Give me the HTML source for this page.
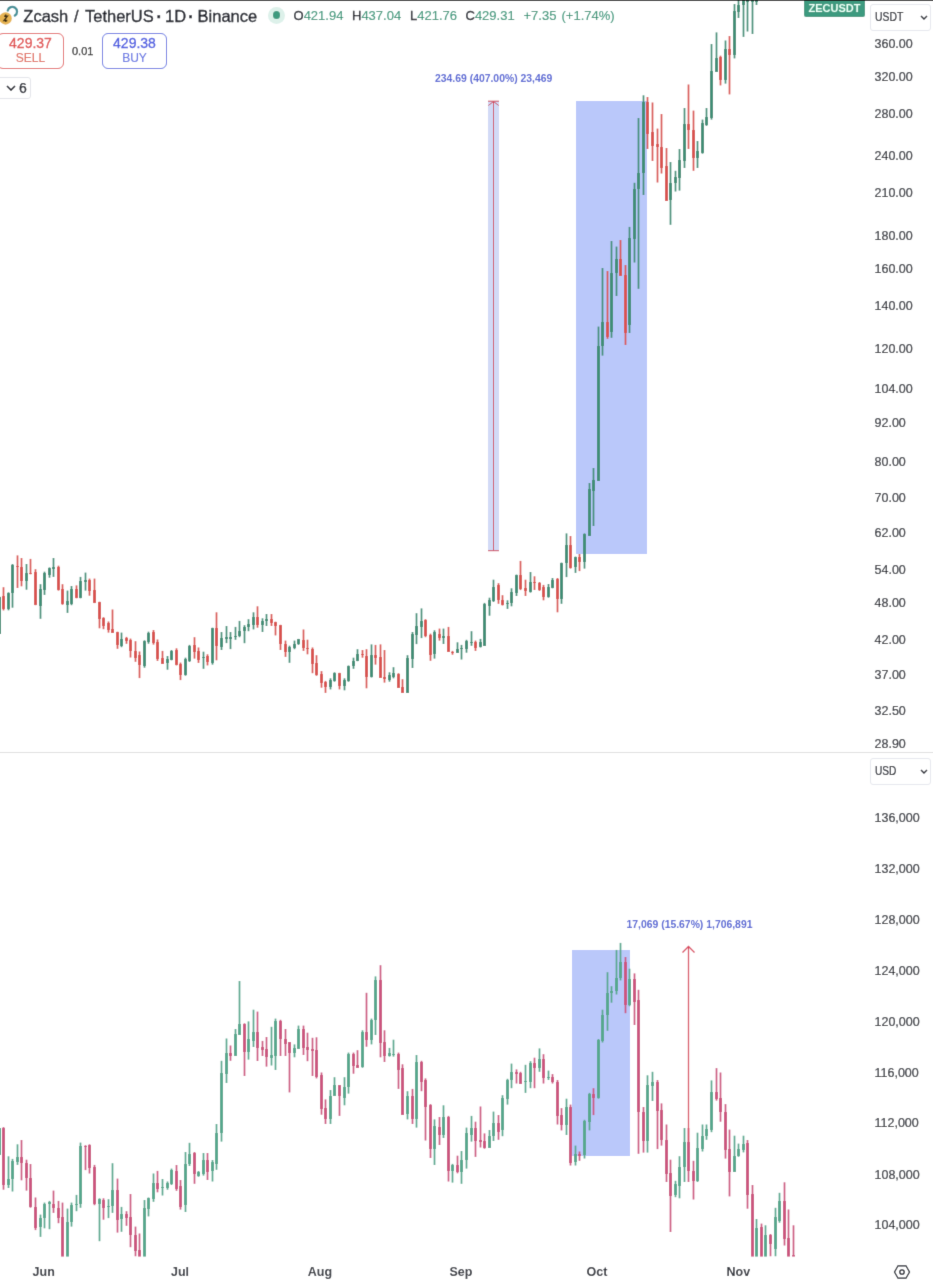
<!DOCTYPE html>
<html><head><meta charset="utf-8"><style>
*{margin:0;padding:0;box-sizing:border-box}
html,body{width:933px;height:1280px;background:#fff;overflow:hidden}
body{position:relative;font-family:"Liberation Sans",sans-serif;color:#131722}
.a{position:absolute;white-space:nowrap}
.k{color:#131722;-webkit-text-stroke:0.3px #131722}
.t{top:6px;font-size:16.5px;line-height:20px;color:#131722;-webkit-text-stroke:0.35px #131722}
.o{top:8px;font-size:13px;line-height:16px;color:#3a987b;-webkit-text-stroke:0.15px #3a987b}
.pl{position:absolute;left:874.5px;font-size:12.5px;line-height:14px;color:#2a2d35;-webkit-text-stroke:0.2px #2a2d35}
.ml{position:absolute;top:1264.5px;width:40px;text-align:center;font-size:12.5px;font-weight:bold;line-height:14px;color:#2f323b}
svg{position:absolute;left:0;top:0}
</style></head><body>
<svg width="0" height="0" style="position:absolute"><filter id="bl" x="0" y="0" width="100%" height="100%" filterUnits="userSpaceOnUse"><feConvolveMatrix order="3" kernelMatrix="0.0113 0.0838 0.0113 0.0838 0.6194 0.0838 0.0113 0.0838 0.0113" divisor="1" edgeMode="duplicate"/></filter></svg>
<div id="wrap" style="position:absolute;left:0;top:0;width:933px;height:1280px;background:#fff;filter:url(#bl)">
<svg width="933" height="1280" viewBox="0 0 933 1280" shape-rendering="crispEdges">
<defs>
<clipPath id="ct"><rect x="0" y="1" width="866" height="751"/></clipPath>
<clipPath id="cb"><rect x="0" y="753" width="866" height="503.5"/></clipPath>
</defs>
<g clip-path="url(#ct)">
<rect x="576" y="101" width="71" height="453" fill="#bac8fa"/>
<rect x="488" y="101" width="11" height="450" fill="#d2daf6"/>
<g fill="#3f8f77"><rect x="-1.35" y="596.6" width="1.7" height="36.9" shape-rendering="auto"/><rect x="-2" y="596.6" width="3" height="36.9"/><rect x="7.65" y="592.3" width="1.7" height="18.0" shape-rendering="auto"/><rect x="7" y="592.8" width="3" height="16.6"/><rect x="11.65" y="564.0" width="1.7" height="43.7" shape-rendering="auto"/><rect x="11" y="565.4" width="3" height="27.8"/><rect x="25.65" y="564.0" width="1.7" height="25.7" shape-rendering="auto"/><rect x="25" y="572.6" width="3" height="8.6"/><rect x="39.65" y="584.2" width="1.7" height="34.6" shape-rendering="auto"/><rect x="39" y="588.9" width="3" height="17.1"/><rect x="43.65" y="571.7" width="1.7" height="23.2" shape-rendering="auto"/><rect x="43" y="572.6" width="3" height="17.1"/><rect x="48.65" y="567.4" width="1.7" height="10.3" shape-rendering="auto"/><rect x="48" y="568.3" width="3" height="6.9"/><rect x="52.65" y="558.0" width="1.7" height="18.9" shape-rendering="auto"/><rect x="52" y="566.6" width="3" height="2.6"/><rect x="66.65" y="590.6" width="1.7" height="22.3" shape-rendering="auto"/><rect x="66" y="600.9" width="3" height="4.3"/><rect x="70.65" y="586.0" width="1.7" height="19.2" shape-rendering="auto"/><rect x="70" y="588.9" width="3" height="14.6"/><rect x="79.65" y="576.9" width="1.7" height="21.4" shape-rendering="auto"/><rect x="79" y="581.2" width="3" height="17.1"/><rect x="84.65" y="572.6" width="1.7" height="18.0" shape-rendering="auto"/><rect x="84" y="580.3" width="3" height="1.7"/><rect x="120.65" y="632.6" width="1.7" height="14.6" shape-rendering="auto"/><rect x="120" y="638.6" width="3" height="7.7"/><rect x="143.65" y="640.3" width="1.7" height="27.4" shape-rendering="auto"/><rect x="143" y="641.2" width="3" height="24.9"/><rect x="147.65" y="631.7" width="1.7" height="12.0" shape-rendering="auto"/><rect x="147" y="632.6" width="3" height="9.4"/><rect x="166.65" y="656.0" width="1.7" height="13.7" shape-rendering="auto"/><rect x="166" y="658.6" width="3" height="4.3"/><rect x="170.65" y="650.0" width="1.7" height="10.3" shape-rendering="auto"/><rect x="170" y="650.9" width="3" height="8.6"/><rect x="184.65" y="657.7" width="1.7" height="18.0" shape-rendering="auto"/><rect x="184" y="659.1" width="3" height="16.1"/><rect x="188.65" y="644.9" width="1.7" height="17.1" shape-rendering="auto"/><rect x="188" y="645.7" width="3" height="15.4"/><rect x="202.65" y="651.7" width="1.7" height="17.1" shape-rendering="auto"/><rect x="202" y="656.9" width="3" height="1.0"/><rect x="211.65" y="627.7" width="1.7" height="36.9" shape-rendering="auto"/><rect x="211" y="628.1" width="3" height="34.8"/><rect x="220.65" y="632.0" width="1.7" height="18.0" shape-rendering="auto"/><rect x="220" y="638.0" width="3" height="8.6"/><rect x="225.65" y="626.0" width="1.7" height="17.1" shape-rendering="auto"/><rect x="225" y="637.2" width="3" height="1.7"/><rect x="229.65" y="632.0" width="1.7" height="17.1" shape-rendering="auto"/><rect x="229" y="637.2" width="3" height="2.1"/><rect x="234.65" y="626.9" width="1.7" height="12.9" shape-rendering="auto"/><rect x="234" y="636.3" width="3" height="1.0"/><rect x="238.65" y="620.9" width="1.7" height="16.3" shape-rendering="auto"/><rect x="238" y="630.7" width="3" height="5.7"/><rect x="243.65" y="625.2" width="1.7" height="18.0" shape-rendering="auto"/><rect x="243" y="626.5" width="3" height="4.6"/><rect x="247.65" y="619.2" width="1.7" height="12.0" shape-rendering="auto"/><rect x="247" y="623.8" width="3" height="3.6"/><rect x="252.65" y="612.3" width="1.7" height="17.1" shape-rendering="auto"/><rect x="252" y="617.4" width="3" height="7.7"/><rect x="261.65" y="618.3" width="1.7" height="13.7" shape-rendering="auto"/><rect x="261" y="620.9" width="3" height="4.3"/><rect x="265.65" y="614.0" width="1.7" height="12.0" shape-rendering="auto"/><rect x="265" y="619.2" width="3" height="1.7"/><rect x="288.65" y="645.7" width="1.7" height="17.1" shape-rendering="auto"/><rect x="288" y="646.6" width="3" height="5.1"/><rect x="293.65" y="640.6" width="1.7" height="8.6" shape-rendering="auto"/><rect x="293" y="644.0" width="3" height="3.8"/><rect x="297.65" y="638.9" width="1.7" height="6.0" shape-rendering="auto"/><rect x="297" y="639.2" width="3" height="5.1"/><rect x="329.65" y="678.3" width="1.7" height="11.1" shape-rendering="auto"/><rect x="329" y="679.7" width="3" height="7.2"/><rect x="333.65" y="672.3" width="1.7" height="9.4" shape-rendering="auto"/><rect x="333" y="673.2" width="3" height="7.7"/><rect x="343.65" y="678.3" width="1.7" height="12.0" shape-rendering="auto"/><rect x="343" y="679.7" width="3" height="5.8"/><rect x="347.65" y="665.5" width="1.7" height="16.3" shape-rendering="auto"/><rect x="347" y="666.0" width="3" height="15.4"/><rect x="352.65" y="657.7" width="1.7" height="11.1" shape-rendering="auto"/><rect x="352" y="661.2" width="3" height="5.1"/><rect x="356.65" y="649.2" width="1.7" height="12.0" shape-rendering="auto"/><rect x="356" y="654.0" width="3" height="7.2"/><rect x="370.65" y="644.4" width="1.7" height="33.1" shape-rendering="auto"/><rect x="370" y="655.2" width="3" height="21.4"/><rect x="388.65" y="672.3" width="1.7" height="9.4" shape-rendering="auto"/><rect x="388" y="674.6" width="3" height="5.5"/><rect x="392.65" y="667.2" width="1.7" height="11.1" shape-rendering="auto"/><rect x="392" y="673.2" width="3" height="3.4"/><rect x="406.65" y="655.2" width="1.7" height="37.7" shape-rendering="auto"/><rect x="406" y="657.7" width="3" height="35.2"/><rect x="411.65" y="632.0" width="1.7" height="36.0" shape-rendering="auto"/><rect x="411" y="633.7" width="3" height="25.7"/><rect x="415.65" y="613.2" width="1.7" height="30.9" shape-rendering="auto"/><rect x="415" y="626.0" width="3" height="9.4"/><rect x="420.65" y="608.4" width="1.7" height="29.7" shape-rendering="auto"/><rect x="420" y="620.9" width="3" height="6.0"/><rect x="433.65" y="630.3" width="1.7" height="28.3" shape-rendering="auto"/><rect x="433" y="632.0" width="3" height="22.3"/><rect x="442.65" y="628.6" width="1.7" height="15.4" shape-rendering="auto"/><rect x="442" y="635.5" width="3" height="2.1"/><rect x="456.65" y="642.3" width="1.7" height="10.3" shape-rendering="auto"/><rect x="456" y="648.8" width="3" height="3.8"/><rect x="460.65" y="644.9" width="1.7" height="14.6" shape-rendering="auto"/><rect x="460" y="647.5" width="3" height="1.4"/><rect x="465.65" y="639.8" width="1.7" height="12.9" shape-rendering="auto"/><rect x="465" y="641.0" width="3" height="8.2"/><rect x="470.65" y="631.2" width="1.7" height="14.6" shape-rendering="auto"/><rect x="470" y="641.5" width="3" height="1.0"/><rect x="479.65" y="638.9" width="1.7" height="8.6" shape-rendering="auto"/><rect x="479" y="642.3" width="3" height="5.1"/><rect x="483.65" y="602.9" width="1.7" height="42.9" shape-rendering="auto"/><rect x="483" y="603.8" width="3" height="41.7"/><rect x="488.65" y="597.7" width="1.7" height="18.0" shape-rendering="auto"/><rect x="488" y="599.5" width="3" height="6.0"/><rect x="492.65" y="579.7" width="1.7" height="22.3" shape-rendering="auto"/><rect x="492" y="586.6" width="3" height="14.6"/><rect x="506.65" y="600.3" width="1.7" height="8.6" shape-rendering="auto"/><rect x="506" y="602.6" width="3" height="1.0"/><rect x="510.65" y="588.3" width="1.7" height="18.0" shape-rendering="auto"/><rect x="510" y="591.7" width="3" height="11.1"/><rect x="515.65" y="574.6" width="1.7" height="21.4" shape-rendering="auto"/><rect x="515" y="575.1" width="3" height="18.3"/><rect x="529.65" y="572.0" width="1.7" height="20.6" shape-rendering="auto"/><rect x="529" y="582.3" width="3" height="9.4"/><rect x="547.65" y="584.0" width="1.7" height="13.7" shape-rendering="auto"/><rect x="547" y="586.6" width="3" height="10.3"/><rect x="551.65" y="578.0" width="1.7" height="10.3" shape-rendering="auto"/><rect x="551" y="580.3" width="3" height="7.2"/><rect x="560.65" y="562.6" width="1.7" height="41.2" shape-rendering="auto"/><rect x="560" y="563.1" width="3" height="35.5"/><rect x="565.65" y="533.4" width="1.7" height="43.7" shape-rendering="auto"/><rect x="565" y="545.4" width="3" height="18.0"/><rect x="574.65" y="556.6" width="1.7" height="16.3" shape-rendering="auto"/><rect x="574" y="557.4" width="3" height="9.4"/><rect x="583.65" y="533.4" width="1.7" height="35.2" shape-rendering="auto"/><rect x="583" y="534.3" width="3" height="27.4"/><rect x="588.65" y="483.0" width="1.7" height="52.6" shape-rendering="auto"/><rect x="588" y="488.8" width="3" height="46.8"/><rect x="592.65" y="468.0" width="1.7" height="58.0" shape-rendering="auto"/><rect x="592" y="480.0" width="3" height="10.6"/><rect x="597.65" y="326.6" width="1.7" height="154.4" shape-rendering="auto"/><rect x="597" y="346.0" width="3" height="135.0"/><rect x="601.65" y="268.0" width="1.7" height="87.6" shape-rendering="auto"/><rect x="601" y="322.0" width="3" height="24.0"/><rect x="610.65" y="241.0" width="1.7" height="96.8" shape-rendering="auto"/><rect x="610" y="272.8" width="3" height="59.2"/><rect x="615.65" y="246.6" width="1.7" height="49.4" shape-rendering="auto"/><rect x="615" y="258.8" width="3" height="14.0"/><rect x="628.65" y="226.9" width="1.7" height="106.1" shape-rendering="auto"/><rect x="628" y="238.0" width="3" height="87.0"/><rect x="633.65" y="182.8" width="1.7" height="79.7" shape-rendering="auto"/><rect x="633" y="189.4" width="3" height="49.6"/><rect x="637.65" y="118.0" width="1.7" height="170.8" shape-rendering="auto"/><rect x="637" y="172.5" width="3" height="16.9"/><rect x="642.65" y="95.3" width="1.7" height="99.7" shape-rendering="auto"/><rect x="642" y="101.6" width="3" height="71.4"/><rect x="669.65" y="162.0" width="1.7" height="62.8" shape-rendering="auto"/><rect x="669" y="182.5" width="3" height="17.1"/><rect x="674.65" y="170.8" width="1.7" height="20.7" shape-rendering="auto"/><rect x="674" y="177.0" width="3" height="5.5"/><rect x="678.65" y="149.0" width="1.7" height="41.6" shape-rendering="auto"/><rect x="678" y="160.0" width="3" height="18.0"/><rect x="683.65" y="108.0" width="1.7" height="60.0" shape-rendering="auto"/><rect x="683" y="124.0" width="3" height="37.0"/><rect x="696.65" y="141.0" width="1.7" height="27.0" shape-rendering="auto"/><rect x="696" y="151.0" width="3" height="7.0"/><rect x="701.65" y="119.6" width="1.7" height="34.1" shape-rendering="auto"/><rect x="701" y="123.0" width="3" height="29.8"/><rect x="705.65" y="108.0" width="1.7" height="17.9" shape-rendering="auto"/><rect x="705" y="116.5" width="3" height="8.5"/><rect x="710.65" y="44.0" width="1.7" height="75.6" shape-rendering="auto"/><rect x="710" y="71.0" width="3" height="46.8"/><rect x="715.65" y="32.4" width="1.7" height="39.6" shape-rendering="auto"/><rect x="715" y="57.5" width="3" height="14.1"/><rect x="724.65" y="40.5" width="1.7" height="43.1" shape-rendering="auto"/><rect x="724" y="49.4" width="3" height="30.6"/><rect x="733.65" y="4.0" width="1.7" height="54.4" shape-rendering="auto"/><rect x="733" y="10.8" width="3" height="44.0"/><rect x="737.65" y="1.0" width="1.7" height="17.0" shape-rendering="auto"/><rect x="737" y="4.5" width="3" height="7.2"/><rect x="742.65" y="1.0" width="1.7" height="35.9" shape-rendering="auto"/><rect x="742" y="1.0" width="3" height="4.4"/><rect x="746.65" y="1.0" width="1.7" height="30.5" shape-rendering="auto"/><rect x="746" y="1.0" width="3" height="1.0"/><rect x="751.65" y="1.0" width="1.7" height="33.0" shape-rendering="auto"/><rect x="751" y="1.0" width="3" height="1.0"/><rect x="755.65" y="1.0" width="1.7" height="4.0" shape-rendering="auto"/><rect x="755" y="1.0" width="3" height="1.0"/></g><g fill="#d9534f"><rect x="2.65" y="587.2" width="1.7" height="23.2" shape-rendering="auto"/><rect x="2" y="595.7" width="3" height="13.7"/><rect x="16.65" y="555.4" width="1.7" height="32.6" shape-rendering="auto"/><rect x="16" y="565.7" width="3" height="1.7"/><rect x="20.65" y="558.0" width="1.7" height="28.3" shape-rendering="auto"/><rect x="20" y="566.6" width="3" height="14.6"/><rect x="29.65" y="558.9" width="1.7" height="15.4" shape-rendering="auto"/><rect x="29" y="572.6" width="3" height="1.4"/><rect x="34.65" y="569.2" width="1.7" height="36.0" shape-rendering="auto"/><rect x="34" y="571.7" width="3" height="33.4"/><rect x="57.65" y="565.7" width="1.7" height="24.9" shape-rendering="auto"/><rect x="57" y="566.6" width="3" height="23.2"/><rect x="61.65" y="584.2" width="1.7" height="20.6" shape-rendering="auto"/><rect x="61" y="588.9" width="3" height="15.4"/><rect x="75.65" y="585.4" width="1.7" height="12.9" shape-rendering="auto"/><rect x="75" y="588.9" width="3" height="9.4"/><rect x="88.65" y="578.6" width="1.7" height="17.1" shape-rendering="auto"/><rect x="88" y="580.3" width="3" height="10.3"/><rect x="93.65" y="578.6" width="1.7" height="24.5" shape-rendering="auto"/><rect x="93" y="589.7" width="3" height="12.9"/><rect x="98.65" y="601.7" width="1.7" height="26.6" shape-rendering="auto"/><rect x="98" y="602.1" width="3" height="16.8"/><rect x="102.65" y="617.2" width="1.7" height="12.0" shape-rendering="auto"/><rect x="102" y="618.0" width="3" height="7.7"/><rect x="107.65" y="621.5" width="1.7" height="11.1" shape-rendering="auto"/><rect x="107" y="623.2" width="3" height="6.9"/><rect x="111.65" y="609.5" width="1.7" height="23.2" shape-rendering="auto"/><rect x="111" y="629.2" width="3" height="3.4"/><rect x="116.65" y="631.7" width="1.7" height="17.1" shape-rendering="auto"/><rect x="116" y="631.7" width="3" height="12.9"/><rect x="125.65" y="636.9" width="1.7" height="6.9" shape-rendering="auto"/><rect x="125" y="637.7" width="3" height="3.4"/><rect x="129.65" y="638.6" width="1.7" height="18.9" shape-rendering="auto"/><rect x="129" y="640.3" width="3" height="10.3"/><rect x="134.65" y="641.2" width="1.7" height="20.6" shape-rendering="auto"/><rect x="134" y="650.6" width="3" height="6.9"/><rect x="138.65" y="651.5" width="1.7" height="26.6" shape-rendering="auto"/><rect x="138" y="654.9" width="3" height="10.3"/><rect x="152.65" y="630.0" width="1.7" height="14.6" shape-rendering="auto"/><rect x="152" y="631.7" width="3" height="11.1"/><rect x="156.65" y="639.5" width="1.7" height="21.4" shape-rendering="auto"/><rect x="156" y="642.0" width="3" height="17.1"/><rect x="161.65" y="650.9" width="1.7" height="12.9" shape-rendering="auto"/><rect x="161" y="657.7" width="3" height="6.0"/><rect x="175.65" y="648.3" width="1.7" height="17.1" shape-rendering="auto"/><rect x="175" y="650.0" width="3" height="14.9"/><rect x="179.65" y="662.6" width="1.7" height="17.5" shape-rendering="auto"/><rect x="179" y="663.8" width="3" height="11.1"/><rect x="193.65" y="637.2" width="1.7" height="21.4" shape-rendering="auto"/><rect x="193" y="644.9" width="3" height="6.9"/><rect x="197.65" y="647.5" width="1.7" height="15.4" shape-rendering="auto"/><rect x="197" y="650.9" width="3" height="9.4"/><rect x="206.65" y="654.3" width="1.7" height="11.1" shape-rendering="auto"/><rect x="206" y="656.4" width="3" height="5.7"/><rect x="215.65" y="612.3" width="1.7" height="48.0" shape-rendering="auto"/><rect x="215" y="628.3" width="3" height="17.5"/><rect x="256.65" y="606.3" width="1.7" height="21.4" shape-rendering="auto"/><rect x="256" y="617.4" width="3" height="7.7"/><rect x="270.65" y="614.0" width="1.7" height="12.0" shape-rendering="auto"/><rect x="270" y="619.2" width="3" height="3.4"/><rect x="274.65" y="621.7" width="1.7" height="13.7" shape-rendering="auto"/><rect x="274" y="622.1" width="3" height="3.9"/><rect x="279.65" y="624.8" width="1.7" height="25.2" shape-rendering="auto"/><rect x="279" y="625.2" width="3" height="18.9"/><rect x="284.65" y="640.6" width="1.7" height="16.3" shape-rendering="auto"/><rect x="284" y="644.0" width="3" height="7.7"/><rect x="302.65" y="629.5" width="1.7" height="21.4" shape-rendering="auto"/><rect x="302" y="639.7" width="3" height="8.6"/><rect x="306.65" y="639.7" width="1.7" height="14.6" shape-rendering="auto"/><rect x="306" y="647.8" width="3" height="1.0"/><rect x="311.65" y="647.5" width="1.7" height="25.7" shape-rendering="auto"/><rect x="311" y="648.8" width="3" height="14.9"/><rect x="315.65" y="655.2" width="1.7" height="20.6" shape-rendering="auto"/><rect x="315" y="662.9" width="3" height="12.3"/><rect x="320.65" y="671.1" width="1.7" height="16.6" shape-rendering="auto"/><rect x="320" y="674.0" width="3" height="9.1"/><rect x="324.65" y="680.9" width="1.7" height="12.0" shape-rendering="auto"/><rect x="324" y="682.1" width="3" height="4.8"/><rect x="338.65" y="672.8" width="1.7" height="16.6" shape-rendering="auto"/><rect x="338" y="673.2" width="3" height="12.9"/><rect x="361.65" y="650.0" width="1.7" height="7.7" shape-rendering="auto"/><rect x="361" y="654.0" width="3" height="1.2"/><rect x="365.65" y="649.2" width="1.7" height="39.1" shape-rendering="auto"/><rect x="365" y="656.0" width="3" height="21.4"/><rect x="374.65" y="644.9" width="1.7" height="19.7" shape-rendering="auto"/><rect x="374" y="655.2" width="3" height="2.9"/><rect x="379.65" y="644.4" width="1.7" height="33.1" shape-rendering="auto"/><rect x="379" y="656.9" width="3" height="20.6"/><rect x="383.65" y="650.0" width="1.7" height="32.6" shape-rendering="auto"/><rect x="383" y="676.6" width="3" height="2.6"/><rect x="397.65" y="673.2" width="1.7" height="14.6" shape-rendering="auto"/><rect x="397" y="673.5" width="3" height="14.2"/><rect x="401.65" y="679.2" width="1.7" height="13.7" shape-rendering="auto"/><rect x="401" y="686.9" width="3" height="6.0"/><rect x="424.65" y="619.2" width="1.7" height="18.0" shape-rendering="auto"/><rect x="424" y="620.0" width="3" height="16.3"/><rect x="429.65" y="633.7" width="1.7" height="27.1" shape-rendering="auto"/><rect x="429" y="634.6" width="3" height="20.6"/><rect x="438.65" y="628.6" width="1.7" height="12.0" shape-rendering="auto"/><rect x="438" y="633.7" width="3" height="4.3"/><rect x="447.65" y="626.9" width="1.7" height="24.9" shape-rendering="auto"/><rect x="447" y="635.5" width="3" height="16.3"/><rect x="451.65" y="650.9" width="1.7" height="3.8" shape-rendering="auto"/><rect x="451" y="651.7" width="3" height="1.7"/><rect x="474.65" y="640.6" width="1.7" height="10.3" shape-rendering="auto"/><rect x="474" y="641.5" width="3" height="6.9"/><rect x="497.65" y="583.2" width="1.7" height="20.6" shape-rendering="auto"/><rect x="497" y="584.9" width="3" height="14.6"/><rect x="501.65" y="595.2" width="1.7" height="10.3" shape-rendering="auto"/><rect x="501" y="599.5" width="3" height="5.1"/><rect x="519.65" y="560.9" width="1.7" height="29.2" shape-rendering="auto"/><rect x="519" y="574.6" width="3" height="14.6"/><rect x="524.65" y="579.7" width="1.7" height="16.3" shape-rendering="auto"/><rect x="524" y="588.3" width="3" height="2.6"/><rect x="533.65" y="576.3" width="1.7" height="13.7" shape-rendering="auto"/><rect x="533" y="582.3" width="3" height="1.0"/><rect x="538.65" y="582.0" width="1.7" height="8.9" shape-rendering="auto"/><rect x="538" y="582.8" width="3" height="7.2"/><rect x="542.65" y="584.9" width="1.7" height="15.4" shape-rendering="auto"/><rect x="542" y="586.6" width="3" height="10.8"/><rect x="556.65" y="578.0" width="1.7" height="34.3" shape-rendering="auto"/><rect x="556" y="579.2" width="3" height="19.4"/><rect x="569.65" y="536.0" width="1.7" height="32.6" shape-rendering="auto"/><rect x="569" y="545.4" width="3" height="22.3"/><rect x="578.65" y="554.0" width="1.7" height="17.1" shape-rendering="auto"/><rect x="578" y="556.6" width="3" height="5.1"/><rect x="606.65" y="271.0" width="1.7" height="67.8" shape-rendering="auto"/><rect x="606" y="321.9" width="3" height="15.0"/><rect x="619.65" y="240.0" width="1.7" height="35.6" shape-rendering="auto"/><rect x="619" y="258.8" width="3" height="16.8"/><rect x="624.65" y="265.0" width="1.7" height="80.0" shape-rendering="auto"/><rect x="624" y="274.7" width="3" height="58.3"/><rect x="646.65" y="97.0" width="1.7" height="52.0" shape-rendering="auto"/><rect x="646" y="101.6" width="3" height="32.4"/><rect x="651.65" y="102.5" width="1.7" height="58.5" shape-rendering="auto"/><rect x="651" y="132.0" width="3" height="13.6"/><rect x="656.65" y="128.6" width="1.7" height="53.9" shape-rendering="auto"/><rect x="656" y="143.8" width="3" height="2.7"/><rect x="660.65" y="114.0" width="1.7" height="59.5" shape-rendering="auto"/><rect x="660" y="146.5" width="3" height="21.5"/><rect x="665.65" y="148.0" width="1.7" height="53.0" shape-rendering="auto"/><rect x="665" y="166.0" width="3" height="34.5"/><rect x="687.65" y="84.5" width="1.7" height="64.5" shape-rendering="auto"/><rect x="687" y="124.0" width="3" height="6.0"/><rect x="692.65" y="110.6" width="1.7" height="60.2" shape-rendering="auto"/><rect x="692" y="129.5" width="3" height="28.5"/><rect x="719.65" y="55.7" width="1.7" height="29.7" shape-rendering="auto"/><rect x="719" y="56.6" width="3" height="23.4"/><rect x="728.65" y="36.0" width="1.7" height="58.4" shape-rendering="auto"/><rect x="728" y="49.4" width="3" height="5.4"/></g>
<g shape-rendering="auto" stroke="#cf4b5e" stroke-width="1" fill="none">
<line x1="493.5" y1="101.5" x2="493.5" y2="550.5"/>
<line x1="488" y1="101.2" x2="499" y2="101.2"/>
<line x1="488" y1="550.7" x2="499" y2="550.7"/>
<polyline points="488.3,105.5 493.5,101.5 498.7,105.5"/>
</g>
</g>
<g clip-path="url(#cb)">
<rect x="571.5" y="950" width="58" height="206" fill="#bac8fa"/>
<g fill="#56a88e"><rect x="-1.35" y="1128.0" width="1.7" height="26.6" shape-rendering="auto"/><rect x="-2" y="1128.0" width="3" height="26.6"/><rect x="7.65" y="1156.3" width="1.7" height="31.7" shape-rendering="auto"/><rect x="7" y="1178.6" width="3" height="6.0"/><rect x="11.65" y="1158.9" width="1.7" height="32.6" shape-rendering="auto"/><rect x="11" y="1161.4" width="3" height="17.1"/><rect x="16.65" y="1144.3" width="1.7" height="20.6" shape-rendering="auto"/><rect x="16" y="1157.2" width="3" height="4.3"/><rect x="39.65" y="1214.6" width="1.7" height="22.3" shape-rendering="auto"/><rect x="39" y="1218.0" width="3" height="9.4"/><rect x="43.65" y="1202.6" width="1.7" height="25.7" shape-rendering="auto"/><rect x="43" y="1203.5" width="3" height="14.6"/><rect x="48.65" y="1200.9" width="1.7" height="28.3" shape-rendering="auto"/><rect x="48" y="1201.7" width="3" height="2.2"/><rect x="66.65" y="1208.6" width="1.7" height="47.9" shape-rendering="auto"/><rect x="66" y="1221.5" width="3" height="35.0"/><rect x="70.65" y="1202.6" width="1.7" height="24.0" shape-rendering="auto"/><rect x="70" y="1205.2" width="3" height="16.3"/><rect x="75.65" y="1194.9" width="1.7" height="16.3" shape-rendering="auto"/><rect x="75" y="1203.5" width="3" height="1.7"/><rect x="79.65" y="1142.6" width="1.7" height="65.2" shape-rendering="auto"/><rect x="79" y="1146.0" width="3" height="58.3"/><rect x="98.65" y="1198.3" width="1.7" height="42.9" shape-rendering="auto"/><rect x="98" y="1199.2" width="3" height="5.1"/><rect x="107.65" y="1199.2" width="1.7" height="18.9" shape-rendering="auto"/><rect x="107" y="1206.0" width="3" height="1.4"/><rect x="111.65" y="1163.2" width="1.7" height="49.7" shape-rendering="auto"/><rect x="111" y="1189.7" width="3" height="16.3"/><rect x="120.65" y="1206.9" width="1.7" height="24.9" shape-rendering="auto"/><rect x="120" y="1213.8" width="3" height="5.1"/><rect x="143.65" y="1200.0" width="1.7" height="56.5" shape-rendering="auto"/><rect x="143" y="1207.7" width="3" height="48.8"/><rect x="147.65" y="1197.5" width="1.7" height="18.9" shape-rendering="auto"/><rect x="147" y="1198.3" width="3" height="10.3"/><rect x="152.65" y="1173.5" width="1.7" height="28.3" shape-rendering="auto"/><rect x="152" y="1182.9" width="3" height="16.3"/><rect x="161.65" y="1179.0" width="1.7" height="16.5" shape-rendering="auto"/><rect x="161" y="1186.9" width="3" height="1.0"/><rect x="166.65" y="1181.5" width="1.7" height="8.2" shape-rendering="auto"/><rect x="166" y="1182.6" width="3" height="5.2"/><rect x="170.65" y="1168.6" width="1.7" height="16.4" shape-rendering="auto"/><rect x="170" y="1169.8" width="3" height="14.0"/><rect x="184.65" y="1152.0" width="1.7" height="60.0" shape-rendering="auto"/><rect x="184" y="1164.0" width="3" height="41.0"/><rect x="188.65" y="1142.8" width="1.7" height="23.2" shape-rendering="auto"/><rect x="188" y="1154.0" width="3" height="10.0"/><rect x="197.65" y="1171.0" width="1.7" height="5.8" shape-rendering="auto"/><rect x="197" y="1172.0" width="3" height="3.6"/><rect x="202.65" y="1153.0" width="1.7" height="22.6" shape-rendering="auto"/><rect x="202" y="1160.0" width="3" height="13.7"/><rect x="211.65" y="1160.0" width="1.7" height="21.5" shape-rendering="auto"/><rect x="211" y="1162.0" width="3" height="9.0"/><rect x="215.65" y="1124.0" width="1.7" height="45.8" shape-rendering="auto"/><rect x="215" y="1133.4" width="3" height="30.6"/><rect x="220.65" y="1060.8" width="1.7" height="80.8" shape-rendering="auto"/><rect x="220" y="1072.5" width="3" height="60.9"/><rect x="225.65" y="1038.5" width="1.7" height="44.5" shape-rendering="auto"/><rect x="225" y="1053.0" width="3" height="20.7"/><rect x="234.65" y="1029.0" width="1.7" height="27.0" shape-rendering="auto"/><rect x="234" y="1033.8" width="3" height="22.2"/><rect x="238.65" y="981.0" width="1.7" height="54.0" shape-rendering="auto"/><rect x="238" y="1023.7" width="3" height="10.8"/><rect x="247.65" y="1021.4" width="1.7" height="38.2" shape-rendering="auto"/><rect x="247" y="1038.5" width="3" height="13.4"/><rect x="252.65" y="1009.7" width="1.7" height="37.3" shape-rendering="auto"/><rect x="252" y="1031.5" width="3" height="9.4"/><rect x="270.65" y="1026.8" width="1.7" height="38.7" shape-rendering="auto"/><rect x="270" y="1055.0" width="3" height="3.4"/><rect x="274.65" y="1018.6" width="1.7" height="51.4" shape-rendering="auto"/><rect x="274" y="1021.4" width="3" height="34.2"/><rect x="293.65" y="1044.4" width="1.7" height="12.9" shape-rendering="auto"/><rect x="293" y="1047.9" width="3" height="4.7"/><rect x="297.65" y="1025.6" width="1.7" height="23.4" shape-rendering="auto"/><rect x="297" y="1029.0" width="3" height="19.6"/><rect x="329.65" y="1090.0" width="1.7" height="34.0" shape-rendering="auto"/><rect x="329" y="1096.0" width="3" height="23.4"/><rect x="333.65" y="1077.2" width="1.7" height="18.8" shape-rendering="auto"/><rect x="333" y="1085.4" width="3" height="10.6"/><rect x="343.65" y="1077.2" width="1.7" height="28.1" shape-rendering="auto"/><rect x="343" y="1086.6" width="3" height="11.7"/><rect x="347.65" y="1052.6" width="1.7" height="41.0" shape-rendering="auto"/><rect x="347" y="1053.8" width="3" height="32.8"/><rect x="361.65" y="1030.3" width="1.7" height="37.5" shape-rendering="auto"/><rect x="361" y="1031.5" width="3" height="35.8"/><rect x="370.65" y="1018.6" width="1.7" height="25.8" shape-rendering="auto"/><rect x="370" y="1019.8" width="3" height="19.9"/><rect x="374.65" y="976.4" width="1.7" height="58.6" shape-rendering="auto"/><rect x="374" y="980.0" width="3" height="39.8"/><rect x="388.65" y="1047.9" width="1.7" height="8.7" shape-rendering="auto"/><rect x="388" y="1053.0" width="3" height="2.6"/><rect x="392.65" y="1039.7" width="1.7" height="16.9" shape-rendering="auto"/><rect x="392" y="1053.7" width="3" height="1.3"/><rect x="406.65" y="1091.2" width="1.7" height="28.2" shape-rendering="auto"/><rect x="406" y="1095.5" width="3" height="18.0"/><rect x="415.65" y="1055.0" width="1.7" height="72.6" shape-rendering="auto"/><rect x="415" y="1062.0" width="3" height="57.4"/><rect x="433.65" y="1119.4" width="1.7" height="45.6" shape-rendering="auto"/><rect x="433" y="1126.4" width="3" height="22.3"/><rect x="442.65" y="1105.3" width="1.7" height="32.7" shape-rendering="auto"/><rect x="442" y="1117.0" width="3" height="17.6"/><rect x="451.65" y="1163.9" width="1.7" height="18.7" shape-rendering="auto"/><rect x="451" y="1165.0" width="3" height="6.0"/><rect x="460.65" y="1151.0" width="1.7" height="32.8" shape-rendering="auto"/><rect x="460" y="1160.4" width="3" height="11.6"/><rect x="465.65" y="1127.6" width="1.7" height="41.0" shape-rendering="auto"/><rect x="465" y="1133.4" width="3" height="26.3"/><rect x="470.65" y="1115.9" width="1.7" height="25.7" shape-rendering="auto"/><rect x="470" y="1127.6" width="3" height="7.0"/><rect x="488.65" y="1130.0" width="1.7" height="17.5" shape-rendering="auto"/><rect x="488" y="1135.8" width="3" height="11.7"/><rect x="492.65" y="1111.6" width="1.7" height="29.4" shape-rendering="auto"/><rect x="492" y="1123.4" width="3" height="12.8"/><rect x="501.65" y="1095.2" width="1.7" height="41.0" shape-rendering="auto"/><rect x="501" y="1097.6" width="3" height="32.8"/><rect x="506.65" y="1078.8" width="1.7" height="25.8" shape-rendering="auto"/><rect x="506" y="1080.0" width="3" height="18.7"/><rect x="510.65" y="1063.6" width="1.7" height="24.6" shape-rendering="auto"/><rect x="510" y="1071.8" width="3" height="8.2"/><rect x="524.65" y="1064.8" width="1.7" height="28.1" shape-rendering="auto"/><rect x="524" y="1081.2" width="3" height="1.1"/><rect x="529.65" y="1061.2" width="1.7" height="27.0" shape-rendering="auto"/><rect x="529" y="1063.1" width="3" height="19.2"/><rect x="538.65" y="1048.4" width="1.7" height="23.4" shape-rendering="auto"/><rect x="538" y="1058.9" width="3" height="9.4"/><rect x="547.65" y="1070.6" width="1.7" height="9.4" shape-rendering="auto"/><rect x="547" y="1076.5" width="3" height="1.6"/><rect x="565.65" y="1098.7" width="1.7" height="36.3" shape-rendering="auto"/><rect x="565" y="1107.0" width="3" height="17.5"/><rect x="574.65" y="1145.6" width="1.7" height="19.9" shape-rendering="auto"/><rect x="574" y="1153.8" width="3" height="8.2"/><rect x="583.65" y="1119.8" width="1.7" height="38.7" shape-rendering="auto"/><rect x="583" y="1121.0" width="3" height="34.0"/><rect x="588.65" y="1092.9" width="1.7" height="37.5" shape-rendering="auto"/><rect x="588" y="1094.0" width="3" height="28.2"/><rect x="597.65" y="1039.0" width="1.7" height="59.7" shape-rendering="auto"/><rect x="597" y="1040.2" width="3" height="58.1"/><rect x="601.65" y="1009.7" width="1.7" height="32.8" shape-rendering="auto"/><rect x="601" y="1014.8" width="3" height="26.5"/><rect x="606.65" y="972.2" width="1.7" height="58.6" shape-rendering="auto"/><rect x="606" y="992.8" width="3" height="22.0"/><rect x="610.65" y="986.2" width="1.7" height="16.5" shape-rendering="auto"/><rect x="610" y="991.0" width="3" height="2.3"/><rect x="615.65" y="949.9" width="1.7" height="44.6" shape-rendering="auto"/><rect x="615" y="978.0" width="3" height="13.4"/><rect x="619.65" y="942.9" width="1.7" height="37.5" shape-rendering="auto"/><rect x="619" y="961.6" width="3" height="16.4"/><rect x="628.65" y="968.7" width="1.7" height="37.5" shape-rendering="auto"/><rect x="628" y="979.2" width="3" height="25.8"/><rect x="646.65" y="1075.3" width="1.7" height="77.3" shape-rendering="auto"/><rect x="646" y="1084.7" width="3" height="56.3"/><rect x="651.65" y="1071.8" width="1.7" height="29.2" shape-rendering="auto"/><rect x="651" y="1082.3" width="3" height="3.5"/><rect x="674.65" y="1180.8" width="1.7" height="16.4" shape-rendering="auto"/><rect x="674" y="1184.3" width="3" height="10.5"/><rect x="678.65" y="1156.2" width="1.7" height="42.1" shape-rendering="auto"/><rect x="678" y="1166.7" width="3" height="18.8"/><rect x="683.65" y="1128.0" width="1.7" height="54.0" shape-rendering="auto"/><rect x="683" y="1142.0" width="3" height="24.7"/><rect x="696.65" y="1132.7" width="1.7" height="49.3" shape-rendering="auto"/><rect x="696" y="1148.0" width="3" height="33.2"/><rect x="701.65" y="1124.5" width="1.7" height="27.0" shape-rendering="auto"/><rect x="701" y="1136.2" width="3" height="12.9"/><rect x="705.65" y="1124.5" width="1.7" height="15.3" shape-rendering="auto"/><rect x="705" y="1129.2" width="3" height="7.0"/><rect x="710.65" y="1080.4" width="1.7" height="51.8" shape-rendering="auto"/><rect x="710" y="1091.8" width="3" height="37.8"/><rect x="733.65" y="1135.7" width="1.7" height="36.1" shape-rendering="auto"/><rect x="733" y="1156.0" width="3" height="15.8"/><rect x="737.65" y="1143.6" width="1.7" height="13.2" shape-rendering="auto"/><rect x="737" y="1149.0" width="3" height="7.0"/><rect x="742.65" y="1135.7" width="1.7" height="16.7" shape-rendering="auto"/><rect x="742" y="1143.6" width="3" height="6.2"/><rect x="755.65" y="1219.0" width="1.7" height="37.5" shape-rendering="auto"/><rect x="755" y="1228.0" width="3" height="28.5"/><rect x="764.65" y="1225.3" width="1.7" height="31.2" shape-rendering="auto"/><rect x="764" y="1235.0" width="3" height="21.5"/><rect x="774.65" y="1207.8" width="1.7" height="48.7" shape-rendering="auto"/><rect x="774" y="1216.6" width="3" height="32.4"/><rect x="778.65" y="1192.8" width="1.7" height="29.9" shape-rendering="auto"/><rect x="778" y="1200.7" width="3" height="20.3"/></g><g fill="#cc5580"><rect x="2.65" y="1127.1" width="1.7" height="62.6" shape-rendering="auto"/><rect x="2" y="1128.0" width="3" height="56.6"/><rect x="20.65" y="1140.0" width="1.7" height="40.3" shape-rendering="auto"/><rect x="20" y="1157.2" width="3" height="6.0"/><rect x="25.65" y="1159.7" width="1.7" height="30.9" shape-rendering="auto"/><rect x="25" y="1163.2" width="3" height="14.6"/><rect x="29.65" y="1164.0" width="1.7" height="43.7" shape-rendering="auto"/><rect x="29" y="1177.7" width="3" height="29.2"/><rect x="34.65" y="1197.5" width="1.7" height="32.6" shape-rendering="auto"/><rect x="34" y="1206.9" width="3" height="20.6"/><rect x="52.65" y="1190.6" width="1.7" height="22.3" shape-rendering="auto"/><rect x="52" y="1203.5" width="3" height="4.3"/><rect x="57.65" y="1200.9" width="1.7" height="22.3" shape-rendering="auto"/><rect x="57" y="1207.7" width="3" height="10.3"/><rect x="61.65" y="1202.6" width="1.7" height="53.9" shape-rendering="auto"/><rect x="61" y="1217.2" width="3" height="39.3"/><rect x="84.65" y="1145.2" width="1.7" height="24.9" shape-rendering="auto"/><rect x="84" y="1146.0" width="3" height="1.0"/><rect x="88.65" y="1144.3" width="1.7" height="29.2" shape-rendering="auto"/><rect x="88" y="1145.2" width="3" height="22.3"/><rect x="93.65" y="1164.9" width="1.7" height="40.3" shape-rendering="auto"/><rect x="93" y="1166.6" width="3" height="37.7"/><rect x="102.65" y="1198.3" width="1.7" height="21.4" shape-rendering="auto"/><rect x="102" y="1200.0" width="3" height="7.7"/><rect x="116.65" y="1178.6" width="1.7" height="54.0" shape-rendering="auto"/><rect x="116" y="1189.7" width="3" height="30.0"/><rect x="125.65" y="1211.2" width="1.7" height="14.6" shape-rendering="auto"/><rect x="125" y="1213.8" width="3" height="4.3"/><rect x="129.65" y="1194.0" width="1.7" height="53.2" shape-rendering="auto"/><rect x="129" y="1217.2" width="3" height="18.0"/><rect x="134.65" y="1226.6" width="1.7" height="29.9" shape-rendering="auto"/><rect x="134" y="1235.2" width="3" height="15.4"/><rect x="138.65" y="1233.5" width="1.7" height="23.0" shape-rendering="auto"/><rect x="138" y="1249.8" width="3" height="6.7"/><rect x="156.65" y="1170.9" width="1.7" height="21.4" shape-rendering="auto"/><rect x="156" y="1182.9" width="3" height="6.0"/><rect x="175.65" y="1165.0" width="1.7" height="25.8" shape-rendering="auto"/><rect x="175" y="1171.0" width="3" height="17.5"/><rect x="179.65" y="1180.0" width="1.7" height="29.6" shape-rendering="auto"/><rect x="179" y="1186.0" width="3" height="21.0"/><rect x="193.65" y="1152.0" width="1.7" height="31.8" shape-rendering="auto"/><rect x="193" y="1153.0" width="3" height="21.0"/><rect x="206.65" y="1153.0" width="1.7" height="27.0" shape-rendering="auto"/><rect x="206" y="1160.0" width="3" height="12.0"/><rect x="229.65" y="1045.5" width="1.7" height="15.3" shape-rendering="auto"/><rect x="229" y="1053.0" width="3" height="2.6"/><rect x="243.65" y="1023.3" width="1.7" height="52.7" shape-rendering="auto"/><rect x="243" y="1023.7" width="3" height="28.2"/><rect x="256.65" y="1011.6" width="1.7" height="49.4" shape-rendering="auto"/><rect x="256" y="1031.5" width="3" height="16.5"/><rect x="261.65" y="1040.9" width="1.7" height="15.1" shape-rendering="auto"/><rect x="261" y="1047.0" width="3" height="2.5"/><rect x="265.65" y="1037.0" width="1.7" height="29.6" shape-rendering="auto"/><rect x="265" y="1049.0" width="3" height="7.6"/><rect x="279.65" y="1019.8" width="1.7" height="36.2" shape-rendering="auto"/><rect x="279" y="1021.4" width="3" height="17.1"/><rect x="284.65" y="1029.0" width="1.7" height="27.0" shape-rendering="auto"/><rect x="284" y="1038.5" width="3" height="5.9"/><rect x="288.65" y="1042.0" width="1.7" height="50.4" shape-rendering="auto"/><rect x="288" y="1042.0" width="3" height="10.6"/><rect x="302.65" y="1025.6" width="1.7" height="29.4" shape-rendering="auto"/><rect x="302" y="1029.0" width="3" height="19.0"/><rect x="306.65" y="1032.7" width="1.7" height="28.5" shape-rendering="auto"/><rect x="306" y="1047.0" width="3" height="2.5"/><rect x="311.65" y="1037.8" width="1.7" height="38.2" shape-rendering="auto"/><rect x="311" y="1048.6" width="3" height="2.8"/><rect x="315.65" y="1037.3" width="1.7" height="41.1" shape-rendering="auto"/><rect x="315" y="1050.2" width="3" height="27.0"/><rect x="320.65" y="1072.5" width="1.7" height="42.2" shape-rendering="auto"/><rect x="320" y="1074.8" width="3" height="34.0"/><rect x="324.65" y="1099.4" width="1.7" height="24.6" shape-rendering="auto"/><rect x="324" y="1108.0" width="3" height="11.4"/><rect x="338.65" y="1085.4" width="1.7" height="30.5" shape-rendering="auto"/><rect x="338" y="1085.4" width="3" height="10.6"/><rect x="352.65" y="1052.6" width="1.7" height="21.1" shape-rendering="auto"/><rect x="352" y="1053.8" width="3" height="11.7"/><rect x="356.65" y="1050.2" width="1.7" height="17.6" shape-rendering="auto"/><rect x="356" y="1065.0" width="3" height="2.8"/><rect x="365.65" y="992.8" width="1.7" height="53.9" shape-rendering="auto"/><rect x="365" y="1031.5" width="3" height="8.2"/><rect x="379.65" y="965.2" width="1.7" height="92.1" shape-rendering="auto"/><rect x="379" y="980.0" width="3" height="63.2"/><rect x="383.65" y="1030.3" width="1.7" height="31.7" shape-rendering="auto"/><rect x="383" y="1042.0" width="3" height="14.0"/><rect x="397.65" y="1052.6" width="1.7" height="36.3" shape-rendering="auto"/><rect x="397" y="1053.7" width="3" height="16.5"/><rect x="401.65" y="1064.3" width="1.7" height="50.4" shape-rendering="auto"/><rect x="401" y="1068.3" width="3" height="46.4"/><rect x="411.65" y="1088.9" width="1.7" height="35.1" shape-rendering="auto"/><rect x="411" y="1095.5" width="3" height="23.9"/><rect x="420.65" y="1060.8" width="1.7" height="30.4" shape-rendering="auto"/><rect x="420" y="1062.0" width="3" height="19.9"/><rect x="424.65" y="1078.4" width="1.7" height="62.1" shape-rendering="auto"/><rect x="424" y="1080.0" width="3" height="26.5"/><rect x="429.65" y="1104.1" width="1.7" height="53.9" shape-rendering="auto"/><rect x="429" y="1105.3" width="3" height="43.4"/><rect x="438.65" y="1117.0" width="1.7" height="28.0" shape-rendering="auto"/><rect x="438" y="1126.9" width="3" height="7.7"/><rect x="447.65" y="1115.9" width="1.7" height="65.6" shape-rendering="auto"/><rect x="447" y="1117.0" width="3" height="54.0"/><rect x="456.65" y="1155.7" width="1.7" height="17.6" shape-rendering="auto"/><rect x="456" y="1165.0" width="3" height="7.0"/><rect x="474.65" y="1121.7" width="1.7" height="35.2" shape-rendering="auto"/><rect x="474" y="1127.6" width="3" height="12.9"/><rect x="479.65" y="1106.5" width="1.7" height="41.0" shape-rendering="auto"/><rect x="479" y="1140.0" width="3" height="1.6"/><rect x="483.65" y="1133.4" width="1.7" height="15.3" shape-rendering="auto"/><rect x="483" y="1141.0" width="3" height="6.5"/><rect x="497.65" y="1115.0" width="1.7" height="24.8" shape-rendering="auto"/><rect x="497" y="1123.4" width="3" height="8.2"/><rect x="515.65" y="1069.4" width="1.7" height="14.1" shape-rendering="auto"/><rect x="515" y="1071.8" width="3" height="2.2"/><rect x="519.65" y="1071.8" width="1.7" height="11.7" shape-rendering="auto"/><rect x="519" y="1073.4" width="3" height="10.1"/><rect x="533.65" y="1057.7" width="1.7" height="30.5" shape-rendering="auto"/><rect x="533" y="1063.1" width="3" height="5.2"/><rect x="542.65" y="1054.2" width="1.7" height="29.3" shape-rendering="auto"/><rect x="542" y="1058.9" width="3" height="18.7"/><rect x="551.65" y="1074.1" width="1.7" height="9.4" shape-rendering="auto"/><rect x="551" y="1076.5" width="3" height="5.8"/><rect x="556.65" y="1080.0" width="1.7" height="44.5" shape-rendering="auto"/><rect x="556" y="1081.9" width="3" height="34.4"/><rect x="560.65" y="1108.1" width="1.7" height="22.3" shape-rendering="auto"/><rect x="560" y="1115.1" width="3" height="9.4"/><rect x="569.65" y="1104.6" width="1.7" height="60.9" shape-rendering="auto"/><rect x="569" y="1107.0" width="3" height="56.2"/><rect x="578.65" y="1151.5" width="1.7" height="9.3" shape-rendering="auto"/><rect x="578" y="1153.8" width="3" height="2.4"/><rect x="592.65" y="1088.2" width="1.7" height="26.9" shape-rendering="auto"/><rect x="592" y="1094.0" width="3" height="4.3"/><rect x="624.65" y="957.0" width="1.7" height="56.2" shape-rendering="auto"/><rect x="624" y="961.6" width="3" height="43.4"/><rect x="633.65" y="973.4" width="1.7" height="51.6" shape-rendering="auto"/><rect x="633" y="979.2" width="3" height="22.3"/><rect x="637.65" y="989.8" width="1.7" height="164.0" shape-rendering="auto"/><rect x="637" y="1000.3" width="3" height="111.3"/><rect x="642.65" y="1107.0" width="1.7" height="45.6" shape-rendering="auto"/><rect x="642" y="1111.6" width="3" height="29.4"/><rect x="656.65" y="1080.0" width="1.7" height="69.1" shape-rendering="auto"/><rect x="656" y="1081.9" width="3" height="28.6"/><rect x="660.65" y="1103.4" width="1.7" height="42.2" shape-rendering="auto"/><rect x="660" y="1110.0" width="3" height="29.8"/><rect x="665.65" y="1124.5" width="1.7" height="57.5" shape-rendering="auto"/><rect x="665" y="1139.8" width="3" height="33.9"/><rect x="669.65" y="1159.7" width="1.7" height="72.3" shape-rendering="auto"/><rect x="669" y="1172.6" width="3" height="23.4"/><rect x="687.65" y="1128.0" width="1.7" height="54.0" shape-rendering="auto"/><rect x="687" y="1142.0" width="3" height="29.4"/><rect x="692.65" y="1160.8" width="1.7" height="38.7" shape-rendering="auto"/><rect x="692" y="1171.4" width="3" height="9.4"/><rect x="715.65" y="1068.1" width="1.7" height="32.5" shape-rendering="auto"/><rect x="715" y="1091.8" width="3" height="7.1"/><rect x="719.65" y="1072.5" width="1.7" height="49.2" shape-rendering="auto"/><rect x="719" y="1098.0" width="3" height="14.0"/><rect x="724.65" y="1104.1" width="1.7" height="54.5" shape-rendering="auto"/><rect x="724" y="1112.0" width="3" height="37.8"/><rect x="728.65" y="1129.6" width="1.7" height="66.8" shape-rendering="auto"/><rect x="728" y="1149.0" width="3" height="22.8"/><rect x="746.65" y="1140.0" width="1.7" height="68.7" shape-rendering="auto"/><rect x="746" y="1142.8" width="3" height="51.8"/><rect x="751.65" y="1185.0" width="1.7" height="71.5" shape-rendering="auto"/><rect x="751" y="1193.7" width="3" height="62.8"/><rect x="760.65" y="1223.6" width="1.7" height="32.9" shape-rendering="auto"/><rect x="760" y="1227.0" width="3" height="29.5"/><rect x="769.65" y="1234.0" width="1.7" height="22.5" shape-rendering="auto"/><rect x="769" y="1235.0" width="3" height="8.8"/><rect x="783.65" y="1182.3" width="1.7" height="63.2" shape-rendering="auto"/><rect x="783" y="1200.7" width="3" height="38.7"/><rect x="787.65" y="1209.5" width="1.7" height="47.0" shape-rendering="auto"/><rect x="787" y="1237.6" width="3" height="18.9"/><rect x="792.65" y="1225.3" width="1.7" height="31.2" shape-rendering="auto"/><rect x="792" y="1255.0" width="3" height="1.5"/></g>
<g shape-rendering="auto" stroke="#d9485e" stroke-width="1.3" fill="none">
<line x1="688.5" y1="946.5" x2="688.5" y2="1142"/>
<polyline points="682.5,952.5 688.5,946.5 694.5,952.5"/>
</g>
</g>
<rect x="0" y="752" width="933" height="1" fill="#e0e0e0"/>
<rect x="0" y="0" width="933" height="1" fill="#1b1b1b"/>
</svg>
<div class="pl" style="top:37.0px">360.00</div>
<div class="pl" style="top:70.0px">320.00</div>
<div class="pl" style="top:107.0px">280.00</div>
<div class="pl" style="top:149.0px">240.00</div>
<div class="pl" style="top:186.0px">210.00</div>
<div class="pl" style="top:229.0px">180.00</div>
<div class="pl" style="top:262.0px">160.00</div>
<div class="pl" style="top:299.0px">140.00</div>
<div class="pl" style="top:342.0px">120.00</div>
<div class="pl" style="top:382.0px">104.00</div>
<div class="pl" style="top:416.0px">92.00</div>
<div class="pl" style="top:455.0px">80.00</div>
<div class="pl" style="top:491.0px">70.00</div>
<div class="pl" style="top:526.0px">62.00</div>
<div class="pl" style="top:563.0px">54.00</div>
<div class="pl" style="top:596.0px">48.00</div>
<div class="pl" style="top:633.0px">42.00</div>
<div class="pl" style="top:668.0px">37.00</div>
<div class="pl" style="top:704.0px">32.50</div>
<div class="pl" style="top:737.0px">28.90</div>
<div class="pl" style="top:811.2px">136,000</div>
<div class="pl" style="top:862.4px">132,000</div>
<div class="pl" style="top:913.2px">128,000</div>
<div class="pl" style="top:964.4px">124,000</div>
<div class="pl" style="top:1014.7px">120,000</div>
<div class="pl" style="top:1066.0px">116,000</div>
<div class="pl" style="top:1116.4px">112,000</div>
<div class="pl" style="top:1168.0px">108,000</div>
<div class="pl" style="top:1218.4px">104,000</div>
<div class="ml" style="left:23.7px">Jun</div>
<div class="ml" style="left:160.0px">Jul</div>
<div class="ml" style="left:300.0px">Aug</div>
<div class="ml" style="left:441.0px">Sep</div>
<div class="ml" style="left:577.0px">Oct</div>
<div class="ml" style="left:718.3px">Nov</div>

<!-- header -->
<svg width="30" height="30" style="left:0;top:0" viewBox="0 0 30 30">
<path d="M7.77 10.49 A4.7 4.7 0 1 1 14.84 15.54" stroke="#3f8f97" stroke-width="2.3" fill="none" stroke-linecap="round"/>
<circle cx="5.6" cy="18.45" r="6.2" fill="#e6b452"/>
<path d="M5.7 14.6 v1.3 M4.1 16.3 h3.2 l-3.2 4.1 h3.2 M5.7 20.5 v1.4" stroke="#3a2a10" stroke-width="1.5" fill="none"/>
</svg>
<div class="a t" style="left:23.3px">Zcash</div><div class="a t" style="left:74px">/</div><div class="a t" style="left:85px">TetherUS</div><div class="a t" style="left:156.5px;font-weight:bold">·</div><div class="a t" style="left:165px">1D</div><div class="a t" style="left:188.2px;font-weight:bold">·</div><div class="a t" style="left:197.6px">Binance</div>
<div class="a" style="left:267.9px;top:6.5px;width:17px;height:17px;border-radius:50%;background:#ddf1ea"></div>
<div class="a" style="left:272.5px;top:11.1px;width:7.8px;height:7.8px;border-radius:50%;background:#3d9a7e"></div>
<div class="a o" style="left:293.5px"><span class="k">O</span>421.94</div><div class="a o" style="left:352px"><span class="k">H</span>437.04</div><div class="a o" style="left:410px"><span class="k">L</span>421.76</div><div class="a o" style="left:465.5px"><span class="k">C</span>429.31</div><div class="a o" style="left:523.5px">+7.35</div><div class="a o" style="left:561.5px">(+1.74%)</div>
<div class="a" style="left:-3px;top:33px;width:66.5px;height:35.5px;border:1px solid #e46767;border-radius:6px"></div>
<div class="a" style="left:0px;top:35px;width:61px;text-align:center;font-size:14px;line-height:16px;color:#e05050;-webkit-text-stroke:0.3px #e05050">429.37</div>
<div class="a" style="left:0px;top:51px;width:61px;text-align:center;font-size:12px;line-height:14px;color:#e06a5c;-webkit-text-stroke:0.15px #e06a5c">SELL</div>
<div class="a" style="left:72px;top:44px;font-size:11px;line-height:14px;color:#222;-webkit-text-stroke:0.25px #222">0.01</div>
<div class="a" style="left:102px;top:33px;width:65px;height:35.5px;border:1px solid #6777e2;border-radius:6px"></div>
<div class="a" style="left:102px;top:35px;width:65px;text-align:center;font-size:14px;line-height:16px;color:#4a5ae0;-webkit-text-stroke:0.3px #4a5ae0">429.38</div>
<div class="a" style="left:102px;top:51px;width:65px;text-align:center;font-size:12px;line-height:14px;color:#6272e2;-webkit-text-stroke:0.15px #6272e2">BUY</div>
<div class="a" style="left:-3px;top:77px;width:34px;height:22px;border:1px solid #e3e5ea;border-radius:3px"></div>
<svg width="10" height="6" style="left:6px;top:85px" viewBox="0 0 10 6"><polyline points="1,1 5,5 9,1" stroke="#131722" stroke-width="1.6" fill="none"/></svg>
<div class="a" style="left:19px;top:80px;font-size:14px;line-height:16px;color:#131722;-webkit-text-stroke:0.25px #131722">6</div>
<div class="a" style="left:435px;top:72.3px;font-size:10.4px;font-weight:bold;line-height:14px;color:#5565d4">234.69 (407.00%) 23,469</div>
<div class="a" style="left:626.5px;top:917.7px;font-size:10.4px;font-weight:bold;line-height:14px;color:#5565d4">17,069 (15.67%) 1,706,891</div>
<!-- right side -->
<div class="a" style="left:804px;top:1px;width:61px;height:15.7px;background:#3d9a7f;border-radius:0 0 2px 2px;color:#e8fff4;font-size:11px;font-weight:bold;line-height:15px;text-align:center">ZECUSDT</div>
<div class="a" style="left:869.5px;top:3.5px;width:61px;height:27px;border:1px solid #e6e8ee;border-radius:3px;background:#fff"></div>
<div class="a" style="left:874.5px;top:10px;font-size:12.5px;line-height:14px;color:#131722;-webkit-text-stroke:0.2px #131722;transform:scaleX(0.83);transform-origin:0 0">USDT</div>
<svg width="8" height="5" style="left:919.5px;top:15px" viewBox="0 0 8 5"><polyline points="1,1 4,4 7,1" stroke="#131722" stroke-width="1.4" fill="none"/></svg>
<div class="a" style="left:869.5px;top:757.5px;width:61px;height:27px;border:1px solid #e6e8ee;border-radius:3px;background:#fff"></div>
<div class="a" style="left:874.5px;top:764px;font-size:12.5px;line-height:14px;color:#131722;-webkit-text-stroke:0.2px #131722;transform:scaleX(0.81);transform-origin:0 0">USD</div>
<svg width="8" height="5" style="left:919.5px;top:769px" viewBox="0 0 8 5"><polyline points="1,1 4,4 7,1" stroke="#131722" stroke-width="1.4" fill="none"/></svg>
<svg width="18" height="16" style="left:892.5px;top:1264px" viewBox="0 0 18 16"><polygon points="1.5,8 5,1.8 13,1.8 16.5,8 13,14.2 5,14.2" stroke="#131722" stroke-width="1.3" fill="none"/><circle cx="9" cy="8" r="2.2" stroke="#131722" stroke-width="1.3" fill="none"/></svg>
</div>
</body></html>
